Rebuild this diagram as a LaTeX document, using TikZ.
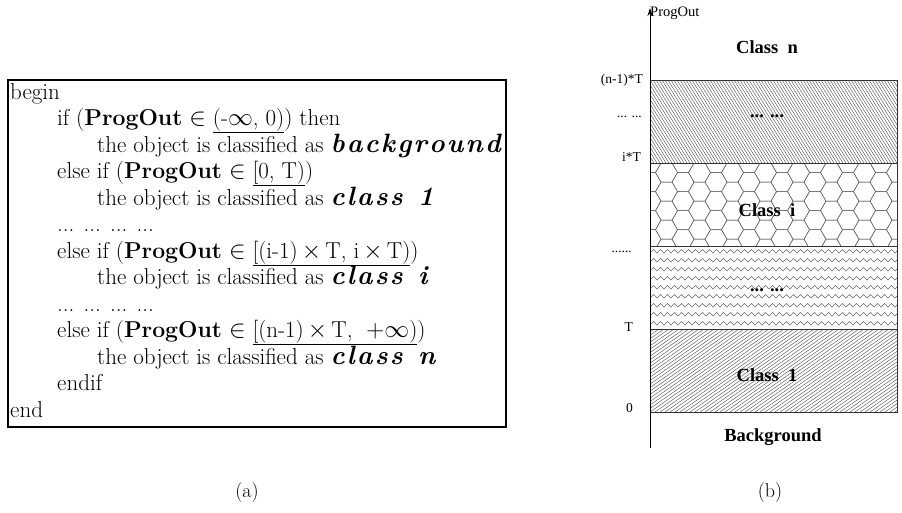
\documentclass[tikz,border=0pt]{standalone}
\usepackage{fontspec}
\newfontfamily\figfont{Liberation Serif}
\usetikzlibrary{arrows.meta}
\newcommand\ls{\kern2.2pt}
\newcommand\clsword[1]{{\fontsize{26.5}{26}\selectfont\bfseries\itshape #1}}
\newcommand\tms{$\mskip3mu\times\mskip3mu$}
\tikzset{
  algline/.style={anchor=base west, inner sep=0pt,
                  font=\fontsize{23}{26}\selectfont},
  subcap/.style={font=\fontsize{20}{24}\selectfont},
  ticklabel/.style={anchor=east, inner sep=0pt,
                    font=\fontsize{13.5}{16}\figfont},
  bandlabel/.style={inner sep=0pt, font=\fontsize{18.5}{20}\figfont\bfseries},
  bandedge/.style={draw=black!80, line width=0.8pt},
  hatchline/.style={black!70, line width=0.4pt},
  hexline/.style={black!60, line width=0.5pt},
  zigline/.style={black!60, line width=0.5pt},
}

\begin{document}
\begin{tikzpicture}[x=1pt, y=-1pt]
\useasboundingbox (0,0) rectangle (902,512);
% (a) the classification rule, one node per line
\draw[line width=1.8pt] (8,80) rectangle (506,427);
\foreach \xx/\txt [count=\row] in {%
  10/{begin},
  57/{if (\textbf{ProgOut} $\in$ \underline{(-$\infty$, 0)}) then},
  97/{the object is classified as \clsword{b\ls a\ls c\ls k\ls g\ls r\ls o\ls u\ls n\ls d}},
  57/{else if (\textbf{ProgOut} $\in$ \underline{[0, T)})},
  97/{the object is classified as \clsword{c\ls l\ls a\ls s\ls s\ls\ \ls 1}},
  57/{... ... ... ...},
  57/{else if (\textbf{ProgOut} $\in$ \underline{[(i-1)\tms T, i\tms T)})},
  97/{the object is classified as \clsword{c\ls l\ls a\ls s\ls s\ls\ \ls i}},
  57/{... ... ... ...},
  57/{else if (\textbf{ProgOut} $\in$ \underline{[(n-1)\tms T, \ $+\infty$)})},
  97/{the object is classified as \clsword{c\ls l\ls a\ls s\ls s\ls\ \ls n}},
  57/{endif},
  10/{end}%
}{
  \node[algline] (line\row) at (\xx, {99+(\row-1)*26.5}) {\txt};
}
\node[subcap] (capa) at (247,493) {(a)};

% (b) bands along the ProgOut axis
% top band, dense back-slash hatch
\begin{scope}
  \clip (650,80) rectangle (897,163);
  \foreach \k in {590,593,...,897}
    \draw[hatchline] (\k,80) -- ++(52,83);
\end{scope}
% class i band, hexagons
\begin{scope}
  \clip (650,163) rectangle (897,246);
  \foreach \c in {0,...,16}{
    \foreach \r in {-1,...,4}{
      \pgfmathsetmacro{\hx}{650+\c*16.5}
      \pgfmathsetmacro{\hy}{163+\r*19.05+mod(\c,2)*9.53}
      \draw[hexline] (\hx+11,\hy) -- ++(-5.5,9.53) -- ++(-11,0)
        -- ++(-5.5,-9.53) -- ++(5.5,-9.53) -- ++(11,0) -- cycle;
    }
  }
\end{scope}
% middle band, zigzag rows
\begin{scope}
  \clip (650,246) rectangle (897,329);
  \foreach \r in {0,...,8}
    \draw[zigline] (650,{253+\r*9})
      \foreach \s in {0,...,35}{ -- ++(3.5,-3.5) -- ++(3.5,3.5) };
\end{scope}
% class 1 band, slash hatch
\begin{scope}
  \clip (650,329) rectangle (897,412);
  \foreach \k in {530,535,...,897}
    \draw[hatchline] (\k,412) -- ++(119,-83);
\end{scope}
\draw[bandedge] (650,80) rectangle (897,412);
\foreach \yy in {163,246,329}
  \draw[bandedge] (650,\yy) -- (897,\yy);

% axis
\coordinate (axisbot) at (650,448);
\coordinate (axistop) at (650,8);
\draw[line width=0.9pt, -{Stealth[length=8pt,width=5pt]}] (axisbot) -- (axistop);
\node[anchor=west, inner sep=0pt, font=\fontsize{14.5}{16}\figfont]
  (progout) at (650,13) {ProgOut};

% tick labels
\node[ticklabel] (tnm1) at (643,80) {(n-1)*T};
\node[ticklabel] (tdots1) at (642,117) {... ...};
\node[ticklabel] (ti) at (641,157) {i*T};
\node[ticklabel] (tdots2) at (632,252) {......};
\node[ticklabel] (tone) at (633,327) {T};
\node[ticklabel] (tzero) at (633,408) {0};

% band labels
\node[bandlabel] (lbn) at (767,47) {Class\ \ n};
\node[bandlabel] (lbdots1) at (767,116) {... ...};
\node[bandlabel] (lbi) at (767,210) {Class\ \ i};
\node[bandlabel] (lbdots2) at (767,290) {... ...};
\node[bandlabel] (lbone) at (767,375) {Class\ \ 1};
\node[bandlabel] (lbbg) at (773,437) {Background};
\node[subcap] (capb) at (770,493) {(b)};
\end{tikzpicture}
\end{document}
